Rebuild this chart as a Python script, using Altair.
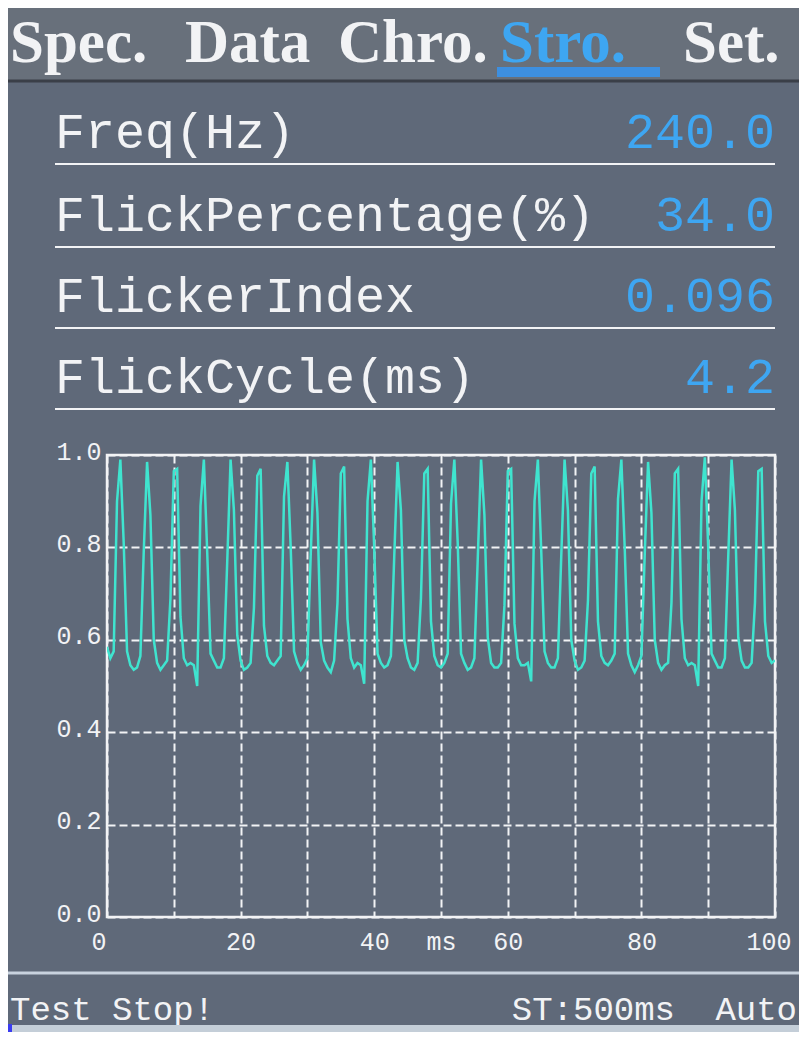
import altair as alt
import pandas as pd

# ---------------- data ----------------
SAMPLE_MS = 0.5  # sampling step of the stroboscope trace (ms)
intensity = [
    # 0 - 12 ms
    0.585, 0.56, 0.575, 0.90, 0.99, 0.81, 0.575, 0.545, 0.535, 0.54, 0.565, 0.79, 0.985,
    0.87, 0.60, 0.55, 0.535, 0.545, 0.555, 0.69, 0.965, 0.97, 0.65, 0.56, 0.545,
    # 12.5 - 24.5 ms
    0.55, 0.545, 0.50, 0.89, 0.99, 0.79, 0.57, 0.555, 0.54, 0.54, 0.56, 0.77, 0.99,
    0.88, 0.61, 0.555, 0.535, 0.54, 0.55, 0.67, 0.955, 0.97, 0.63, 0.565, 0.55,
    # 25 - 37 ms
    0.545, 0.555, 0.565, 0.91, 0.985, 0.80, 0.575, 0.55, 0.535, 0.545, 0.56, 0.785, 0.99,
    0.875, 0.595, 0.555, 0.54, 0.53, 0.555, 0.68, 0.96, 0.975, 0.645, 0.56, 0.54,
    # 37.5 - 49.5 ms
    0.55, 0.545, 0.505, 0.90, 0.99, 0.80, 0.57, 0.55, 0.54, 0.545, 0.565, 0.78, 0.985,
    0.88, 0.60, 0.56, 0.54, 0.535, 0.55, 0.69, 0.96, 0.97, 0.64, 0.565, 0.545,
    # 50 - 62 ms
    0.54, 0.55, 0.57, 0.895, 0.99, 0.81, 0.57, 0.55, 0.535, 0.54, 0.56, 0.775, 0.99,
    0.87, 0.605, 0.55, 0.54, 0.54, 0.55, 0.675, 0.965, 0.97, 0.635, 0.56, 0.545,
    # 62.5 - 74.5 ms
    0.545, 0.55, 0.51, 0.90, 0.99, 0.795, 0.575, 0.55, 0.54, 0.54, 0.56, 0.78, 0.99,
    0.88, 0.60, 0.555, 0.535, 0.54, 0.555, 0.685, 0.96, 0.975, 0.64, 0.565, 0.55,
    # 75 - 87 ms
    0.545, 0.555, 0.57, 0.905, 0.99, 0.80, 0.57, 0.545, 0.53, 0.545, 0.565, 0.785, 0.985,
    0.875, 0.60, 0.55, 0.535, 0.545, 0.55, 0.68, 0.96, 0.97, 0.645, 0.56, 0.545,
    # 87.5 - 99.5 ms
    0.55, 0.545, 0.50, 0.90, 0.995, 0.80, 0.57, 0.555, 0.54, 0.54, 0.56, 0.78, 0.99,
    0.88, 0.605, 0.555, 0.54, 0.54, 0.55, 0.68, 0.965, 0.97, 0.64, 0.565, 0.55,
    # 100 ms
    0.555,
]
time_ms = [round(i * SAMPLE_MS, 2) for i in range(len(intensity))]

tabs = ["Spec.", "Data", "Chro.", "Stro.", "Set."]
active_tab = "Stro."
metric_names = ["Freq(Hz)", "FlickPercentage(%)", "FlickerIndex", "FlickCycle(ms)"]
metric_values = ["240.0", "34.0", "0.096", "4.2"]
y_ticks = [0.0, 0.2, 0.4, 0.6, 0.8, 1.0]
x_grid = [0, 10, 20, 30, 40, 50, 60, 70, 80, 90, 100]
x_unit = "ms"
status_left = "Test Stop!"
status_right = ["ST:500ms", "Auto"]

# ---------------- layout / style ----------------
W, H = 668, 462          # plot area
OX, OY = 107, 455        # plot origin on the page
PAD = {"left": OX - 8, "top": OY - 8, "right": 24, "bottom": 115}
BG = "#5f6979"
HEADER_BG = "#68707b"
WHITE = "#f2f3f5"
BLUE = "#3ea6f2"
TRACE = "#3fe4cf"
MONO = "Liberation Mono"
SERIF = "Liberation Serif"


def px(x):
    return x - OX


def py(y):
    return y - OY


one = alt.Data(values=[{}])


def text(s, x, y, size, color=WHITE, align="left", font=MONO, weight="normal"):
    return alt.Chart(alt.Data(values=[{"s": s}])).mark_text(
        align=align, baseline="alphabetic", fontSize=size, font=font,
        fontWeight=weight, color=color
    ).encode(text="s:N", x=alt.value(px(x)), y=alt.value(py(y)))


def hrule(x1, x2, y, color=WHITE, width=2.5):
    return alt.Chart(one).mark_rule(color=color, strokeWidth=width).encode(
        x=alt.value(px(x1)), x2=alt.value(px(x2)), y=alt.value(py(y)))


def rect(x1, x2, y1, y2, color):
    return alt.Chart(one).mark_rect(color=color).encode(
        x=alt.value(px(x1)), x2=alt.value(px(x2)),
        y=alt.value(py(y1)), y2=alt.value(py(y2)))


layers = []

# header strip
layers.append(rect(8, 799, 8, 80, HEADER_BG))
layers.append(hrule(8, 799, 81, color="#3a3f48", width=3))
tab_x = [10, 185, 338, 500, 683]
for name, x in zip(tabs, tab_x):
    layers.append(text(name, x, 62, 61, color=BLUE if name == active_tab else WHITE,
                       font=SERIF, weight="bold"))
layers.append(rect(497, 660, 67, 77, "#3d8fe0"))

# metric rows
row_base = [148, 231, 312, 393]
for name, val, yb in zip(metric_names, metric_values, row_base):
    layers.append(text(name, 55, yb, 50))
    layers.append(text(val, 775, yb, 50, color=BLUE, align="right"))
    layers.append(hrule(55, 775, yb + 16, width=2))

# trace
df = pd.DataFrame({"t": time_ms, "v": intensity})
trace = alt.Chart(df).mark_line(color=TRACE, strokeWidth=2.5, clip=True).encode(
    x=alt.X("t:Q", scale=alt.Scale(domain=[0, 100], nice=False, zero=False),
            axis=alt.Axis(values=x_grid, title=None, format="d",
                          labelExpr=f"datum.value == 50 ? '{x_unit}' : (datum.value % 20 == 0 ? datum.label : '')",
                          labelPadding=12, labelFlush=True, labelFlushOffset=16)),
    y=alt.Y("v:Q", scale=alt.Scale(domain=[0, 1], nice=False),
            axis=alt.Axis(values=y_ticks, title=None, format=".1f", labelPadding=6,
                          labelOffset=-4)),
)
layers.insert(0, trace)

# status bar
layers.append(hrule(8, 799, 973, color="#c8d2de", width=3))
layers.append(text(status_left, 10, 1020, 34))
layers.append(text(status_right[0], 675, 1020, 34, align="right"))
layers.append(text(status_right[1], 797, 1020, 34, align="right"))
layers.append(rect(8, 799, 1025, 1032, "#c4ced8"))
layers.append(rect(8, 12, 1024, 1032, "#3a3cf0"))

chart = alt.layer(*layers).properties(
    width=W, height=H,
    autosize=alt.AutoSizeParams(type="none"),
    padding=PAD,
).configure(background=BG).configure_view(
    stroke=WHITE, strokeWidth=2.5, fill=BG
).configure_axis(
    grid=True, gridColor=WHITE, gridDash=[8, 4], gridWidth=2, gridOpacity=1,
    domain=False, ticks=False, labelColor=WHITE, labelFont=MONO, labelFontSize=25,
)

chart.save("out.html", embed_options={"renderer": "svg", "actions": False})
